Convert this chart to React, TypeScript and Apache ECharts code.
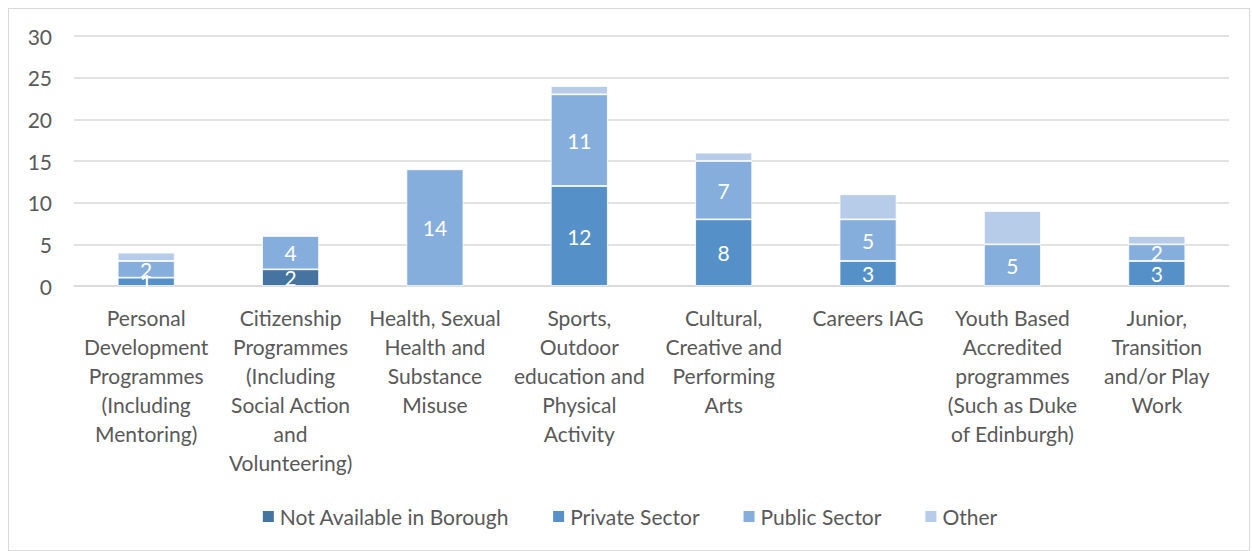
import React, { useEffect, useRef } from "react";
import * as echarts from "echarts";

const categories = [
  "Personal\nDevelopment\nProgrammes\n(Including\nMentoring)",
  "Citizenship\nProgrammes\n(Including\nSocial Action\nand\nVolunteering)",
  "Health, Sexual\nHealth and\nSubstance\nMisuse",
  "Sports,\nOutdoor\neducation and\nPhysical\nActivity",
  "Cultural,\nCreative and\nPerforming\nArts",
  "Careers IAG",
  "Youth Based\nAccredited\nprogrammes\n(Such as Duke\nof Edinburgh)",
  "Junior,\nTransition\nand/or Play\nWork",
];

const notAvailable = [0, 2, 0, 0, 0, 0, 0, 0];
const privateSector = [1, 0, 0, 12, 8, 3, 0, 3];
const publicSector = [2, 4, 14, 11, 7, 5, 5, 2];
const other = [1, 0, 0, 1, 1, 3, 4, 1];

const yTicks = [0, 5, 10, 15, 20, 25, 30];

const FONT = "Lato, 'Liberation Sans', sans-serif";
const FS = 21;

export default function App() {
  const ref = useRef<HTMLDivElement>(null);

  useEffect(() => {
    if (!ref.current) return;
    const chart = echarts.init(ref.current, undefined, { renderer: "svg" });

    const label = {
      show: true,
      color: "#ffffff",
      fontSize: FS,
      fontFamily: FONT,
      formatter: (p: any) => (p.value ? String(p.value) : ""),
    };

    const mk = (name: string, data: number[], color: string, withLabel: boolean) => ({
      name,
      type: "bar",
      stack: "total",
      barWidth: 57,
      data: data.map((v) => (v === 0 ? null : v)),
      itemStyle: { color, borderColor: "#ffffff", borderWidth: 0.8 },
      label: withLabel ? label : { show: false },
      emphasis: { disabled: true },
    });

    chart.setOption({
      animation: false,
      textStyle: { fontFamily: FONT },
      grid: { left: 65, right: 20, top: 27, bottom: 264, containLabel: false },
      legend: {
        bottom: 18,
        left: "center",
        itemWidth: 13,
        itemHeight: 13,
        itemGap: 42,
        icon: "rect",
        textStyle: { fontSize: FS, color: "#595959", fontFamily: FONT },
        data: ["Not Available in Borough", "Private Sector", "Public Sector", "Other"],
      },
      xAxis: {
        type: "category",
        data: categories,
        axisTick: { show: false },
        axisLine: { lineStyle: { color: "#d9d9d9", width: 1.5 } },
        axisLabel: {
          interval: 0,
          color: "#595959",
          fontSize: FS,
          lineHeight: 29,
          margin: 17,
          fontFamily: FONT,
        },
      },
      yAxis: {
        type: "value",
        min: yTicks[0],
        max: yTicks[yTicks.length - 1],
        interval: yTicks[1] - yTicks[0],
        axisLine: { show: false },
        axisTick: { show: false },
        axisLabel: { color: "#595959", fontSize: FS, margin: 22, fontFamily: FONT },
        splitLine: { lineStyle: { color: "#d9d9d9", width: 1.5 } },
      },
      series: [
        mk("Not Available in Borough", notAvailable, "#44749f", true),
        mk("Private Sector", privateSector, "#5591c8", true),
        mk("Public Sector", publicSector, "#86aedc", true),
        mk("Other", other, "#b7cce8", false),
      ],
    });

    return () => chart.dispose();
  }, []);

  return (
    <div
      style={{
        position: "absolute",
        left: 8,
        top: 8,
        width: 1242,
        height: 543,
        border: "1px solid #d9d9d9",
        boxSizing: "border-box",
        background: "#ffffff",
      }}
    >
      <div ref={ref} style={{ width: "100%", height: "100%" }} />
    </div>
  );
}
